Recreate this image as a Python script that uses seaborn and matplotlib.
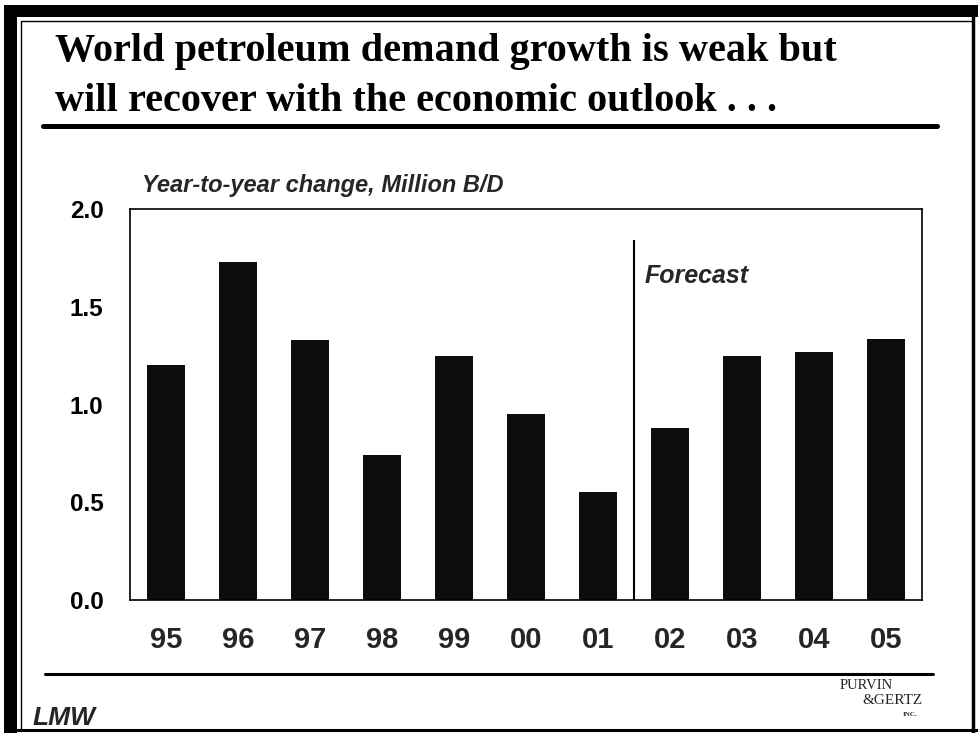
import matplotlib
matplotlib.use("Agg")
import matplotlib.pyplot as plt
import seaborn as sns
import pandas as pd
from matplotlib.lines import Line2D
from matplotlib.patches import Rectangle

# ---- data ----
years = ["95", "96", "97", "98", "99", "00", "01", "02", "03", "04", "05"]
change = [1.20, 1.73, 1.33, 0.74, 1.25, 0.95, 0.55, 0.88, 1.25, 1.27, 1.335]
y_ticks = [0.0, 0.5, 1.0, 1.5, 2.0]
title_lines = ["World petroleum demand growth is weak but",
               "will recover with the economic outlook . . ."]
subtitle = "Year-to-year change, Million B/D"
forecast_label = "Forecast"
forecast_from = "02"
forecast_line_top = 1.84

df = pd.DataFrame({"year": years, "change": change})

sns.set_style("white")
plt.rcParams["font.family"] = ["Liberation Sans", "DejaVu Sans"]

W, H = 979, 733
fig = plt.figure(figsize=(W / 100, H / 100), dpi=100)
fig.patch.set_facecolor("white")

def fx(px):
    return px / W

def fy(py):
    return 1 - py / H

ax = fig.add_axes([fx(130), fy(600), (922 - 130) / W, (600 - 209) / H])
sns.barplot(data=df, x="year", y="change", order=years, color="#0d0d0d",
            saturation=1, width=0.53, ax=ax, edgecolor="none")

ax.set_xlim(-0.5, len(years) - 0.5)
ax.set_ylim(0, 2.0)
ax.set_xlabel("")
ax.set_ylabel("")
ax.set_yticks(y_ticks)
ax.set_yticklabels([f"{v:.1f}" for v in y_ticks], fontsize=17.5, fontweight="bold")
ax.tick_params(axis="y", direction="in", length=7, width=1.1, pad=19, colors="black")
ax.set_xticks(range(len(years)))
ax.set_xticklabels(years, fontsize=21, fontweight="bold")
ax.tick_params(axis="x", which="major", length=0, pad=19)
ax.set_xticks([i + 0.5 for i in range(len(years) - 1)], minor=True)
ax.tick_params(axis="x", which="minor", direction="in", length=7, width=1.1, colors="black")
for s in ax.spines.values():
    s.set_visible(True)
    s.set_color("black")
    s.set_linewidth(1.2)

# forecast divider
split = years.index(forecast_from) - 0.5
ax.vlines(split, 0, forecast_line_top, color="black", lw=1.5)
ax.text(split + 0.15, 1.62, forecast_label, fontsize=18, fontweight="bold",
        fontstyle="italic", ha="left", va="baseline")

# subtitle
fig.text(fx(142), fy(192), subtitle, fontsize=17, fontweight="bold",
         fontstyle="italic", ha="left", va="baseline")

# title
fig.text(fx(55), fy(61), title_lines[0], family="Liberation Serif",
         fontweight="bold", fontsize=29, ha="left", va="baseline", color="black")
fig.text(fx(55), fy(111), title_lines[1], family="Liberation Serif",
         fontweight="bold", fontsize=29, ha="left", va="baseline", color="black")

# rules
fig.add_artist(Line2D([fx(43), fx(937)], [fy(126), fy(126)], color="black", lw=3.6))
fig.add_artist(Line2D([fx(45), fx(933)], [fy(674), fy(674)], color="black", lw=2.2))

# frame
fig.add_artist(Rectangle((fx(4), fy(733)), (17 - 4) / W, (733 - 5) / H,
                         color="black", lw=0))
fig.add_artist(Rectangle((fx(4), fy(17)), (979 - 4) / W, (17 - 5) / H,
                         color="black", lw=0))
fig.add_artist(Line2D([fx(21), fx(21)], [fy(21), fy(730)], color="black", lw=1.0))
fig.add_artist(Line2D([fx(21), fx(973)], [fy(21), fy(21)], color="black", lw=1.0))
fig.add_artist(Line2D([fx(973), fx(973)], [fy(17), fy(733)], color="black", lw=2.5))
fig.add_artist(Line2D([fx(17), fx(979)], [fy(730), fy(730)], color="black", lw=2.2))

# logos
fig.text(fx(33), fy(725), "LMW", fontsize=19, fontweight="bold", fontstyle="italic",
         ha="left", va="baseline")
fig.text(fx(840), fy(689), "PURVIN", family="Liberation Serif", fontsize=10.5,
         ha="left", va="baseline")
fig.text(fx(862), fy(704), "&GERTZ", family="Liberation Serif", fontsize=11,
         ha="left", va="baseline")
fig.text(fx(903), fy(716), "INC.", family="Liberation Serif", fontsize=5,
         fontweight="bold", ha="left", va="baseline")

fig.savefig("out.png", dpi=100, facecolor="white")
